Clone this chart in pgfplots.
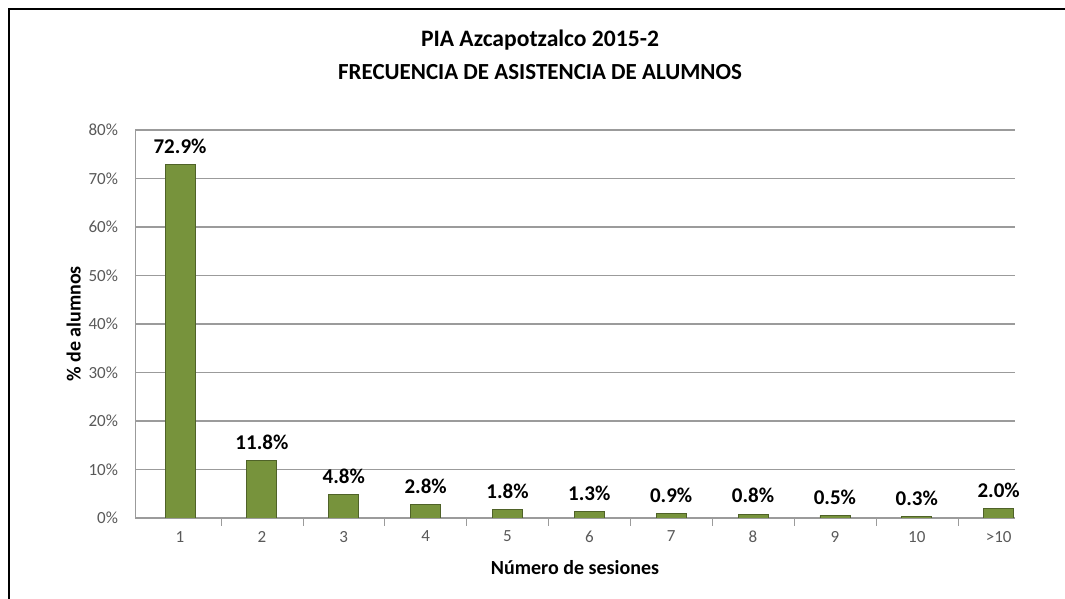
\documentclass[border=0pt]{standalone}
\usepackage{pgfplots}
\pgfplotsset{compat=1.18}
\usepackage{fontspec}
\setmainfont{Carlito}
\definecolor{bardark}{RGB}{79,98,40}
\definecolor{barfill}{RGB}{119,147,60}
\definecolor{gridgray}{RGB}{155,155,155}
\definecolor{ticktext}{RGB}{89,89,89}
\begin{document}
\begin{tikzpicture}
\useasboundingbox (0pt,0pt) rectangle (532.5pt,299.5pt);
% frame (cropped at right and bottom)
\draw[black,line width=1.3pt] (4.5pt,0pt) -- (4.5pt,295pt) -- (532.5pt,295pt);
% title
\node[font=\bfseries\fontsize{11.8}{13}\selectfont] at (270pt,279.5pt) {PIA Azcapotzalco 2015-2};
\node[font=\bfseries\fontsize{11.5}{13}\selectfont] at (270pt,263.5pt) {FRECUENCIA DE ASISTENCIA DE ALUMNOS};
\begin{axis}[
  at={(67.5pt,40.5pt)}, anchor=south west,
  scale only axis, width=440pt, height=194pt,
  xmin=0.45, xmax=11.2, ymin=0, ymax=80,
  axis x line*=bottom, axis y line*=left,
  axis line style={gridgray},
  ytick={0,10,...,80},
  yticklabel={\pgfmathprintnumber{\tick}\%},
  yticklabel style={xshift=-5pt},
  xtick=data,
  xticklabels={1,2,3,4,5,6,7,8,9,10,>10},
  minor xtick={1.5,2.5,...,10.5},
  major x tick style={draw=none},
  minor tick length=4pt,
  major tick length=3pt,
  tick style={gridgray},
  ymajorgrids, grid style={gridgray,line width=0.6pt},
  ticklabel style={font=\fontsize{8.5}{10}\selectfont, text=ticktext},
  /pgf/number format/assume math mode=true,
  xlabel={\textbf{Número de sesiones}},
  ylabel={\textbf{\% de alumnos}},
  label style={font=\fontsize{10}{12}\selectfont},
  xlabel style={yshift=-2pt},
  ylabel style={yshift=-3pt},
  ybar, bar width=15pt,
  nodes near coords={\pgfmathprintnumber[fixed,fixed zerofill,precision=1]{\pgfplotspointmeta}\%},
  every node near coord/.append style={font=\bfseries\fontsize{10.5}{12}\selectfont, text=black, yshift=2pt},
]
\addplot[draw=bardark, line width=0.4pt, fill=barfill]
  coordinates {(1,72.9) (2,11.8) (3,4.8) (4,2.8) (5,1.8) (6,1.3) (7,0.9) (8,0.8) (9,0.5) (10,0.3) (11,2.0)};
\end{axis}
\end{tikzpicture}
\end{document}
